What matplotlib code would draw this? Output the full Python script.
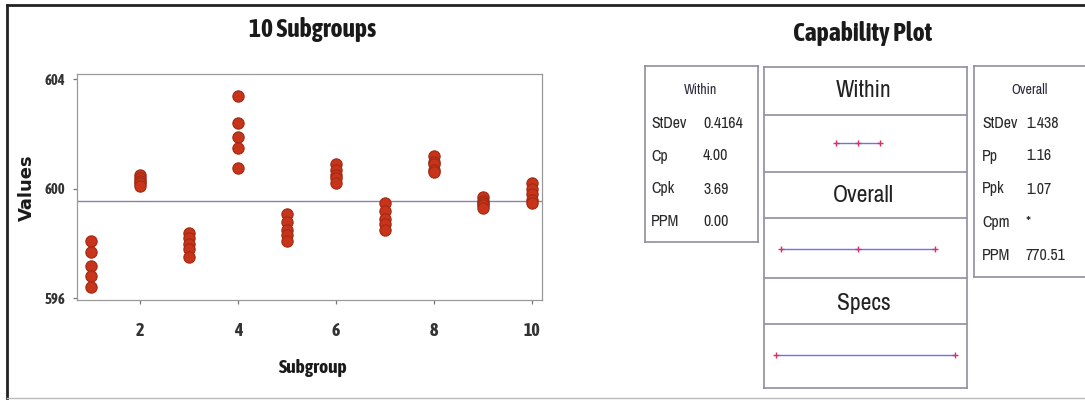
import numpy as np
import matplotlib
matplotlib.use("Agg")
import matplotlib.pyplot as plt
from matplotlib import font_manager
from matplotlib.lines import Line2D

# ---------------- data ----------------
subgroups = [1, 2, 3, 4, 5, 6, 7, 8, 9, 10]
values = [
    [598.1, 597.7, 597.2, 596.8, 596.4],
    [600.5, 600.4, 600.3, 600.2, 600.1],
    [598.4, 598.2, 598.0, 597.8, 597.5],
    [603.4, 602.4, 601.9, 601.5, 600.75],
    [599.1, 598.8, 598.5, 598.3, 598.1],
    [600.9, 600.7, 600.5, 600.4, 600.2],
    [599.5, 599.2, 598.9, 598.7, 598.5],
    [601.2, 601.0, 600.9, 600.7, 600.6],
    [599.7, 599.55, 599.5, 599.4, 599.3],
    [600.2, 600.0, 599.8, 599.6, 599.5],
]
y_ticks = [596, 600, 604]
x_ticks = [2, 4, 6, 8, 10]

LSL, USL = 595.0, 605.0
sd_within = 0.4164
sd_overall = 1.438
within_labels = ["StDev", "Cp", "Cpk", "PPM"]
within_values = ["0.4164", "4.00", "3.69", "0.00"]
overall_labels = ["StDev", "Pp", "Ppk", "Cpm", "PPM"]
overall_values = ["1.438", "1.16", "1.07", "*", "770.51"]
section_names = ["Within", "Overall", "Specs"]

# ---------------- fonts ----------------
entries = font_manager.fontManager.ttflist


def wnum(w):
    if isinstance(w, str):
        return font_manager.weight_dict.get(w, 400)
    return int(w)


cands = sorted({f.name for f in entries if ("Narrow" in f.name or "Condensed" in f.name)})
reg_cands = [n for n in cands if any(f.name == n and 350 <= wnum(f.weight) <= 500 for f in entries)]
bold_cands = [n for n in cands if any(f.name == n and wnum(f.weight) >= 600 for f in entries)]

if reg_cands:
    REG = [reg_cands[0], "DejaVu Sans"]
    k = 1.0
elif cands:
    REG = [cands[0], "DejaVu Sans"]
    k = 1.0
else:
    REG = ["Liberation Sans", "DejaVu Sans"]
    k = 0.8
if bold_cands:
    BOLD = [bold_cands[0], "DejaVu Sans"]
    kb = 1.0
else:
    BOLD = ["Liberation Sans", "DejaVu Sans"]
    kb = 0.86
plt.rcParams["font.family"] = REG

W, H = 1085, 400
fig = plt.figure(figsize=(W / 100, H / 100), dpi=100)


def px_axes(x0, y0, x1, y1, **kw):
    return fig.add_axes([x0 / W, 1 - y1 / H, (x1 - x0) / W, (y1 - y0) / H], **kw)


def fx(x):
    return x / W


def fy(y):
    return 1 - y / H


# outer frame
fig.add_artist(Line2D([fx(7), fx(1085)], [fy(5), fy(5)], color="#222222", lw=2))
fig.add_artist(Line2D([fx(7), fx(7)], [fy(5), fy(398)], color="#222222", lw=2))
fig.add_artist(Line2D([fx(7), fx(1085)], [fy(398), fy(398)], color="#bbbbbb", lw=1))

# ---------------- left chart ----------------
ax = px_axes(77, 74, 542, 300)
xs = np.concatenate([[s] * len(v) for s, v in zip(subgroups, values)])
ys = np.concatenate(values)
mean = ys.mean()
ax.axhline(mean, color="#8585a5", lw=1.0, zorder=1)
ax.scatter(xs, ys, s=66, color="#c8341a", edgecolor="#a02a14", linewidth=0.8, zorder=3)
ax.set_xlim(0.72, 10.2)
ax.set_ylim(595.94, 604.2)
ax.set_xticks(x_ticks)
ax.set_yticks(y_ticks)
for sp in ax.spines.values():
    sp.set_color("#9a9a9a")
    sp.set_linewidth(0.9)
ax.tick_params(axis="x", length=3, width=0.9, color="#777777", pad=12.5)
ax.tick_params(axis="y", length=3, width=0.9, color="#777777", pad=5.5)
for lab in ax.get_xticklabels():
    lab.set_family(BOLD)
    lab.set_fontweight("bold")
    lab.set_fontsize(13 * kb)
    lab.set_color("#333333")
for lab in ax.get_yticklabels():
    lab.set_family(BOLD)
    lab.set_fontweight("bold")
    lab.set_fontsize(10.5 * kb)
    lab.set_color("#333333")

fig.text(fx(313), fy(37), "10 Subgroups", ha="center", va="baseline", family=BOLD,
         fontsize=18.5 * kb, fontweight="bold", color="#1a1a1a")
fig.text(fx(313), fy(373), "Subgroup", ha="center", va="baseline", family=BOLD,
         fontsize=14 * kb, fontweight="bold", color="#1a1a1a")
fig.text(fx(27), fy(188), "Values", ha="center", va="center", rotation=90,
         fontsize=13, fontweight="bold", color="#1a1a1a", family=["DejaVu Sans"])

# ---------------- capability plot ----------------
fig.text(fx(863), fy(41), "Capability Plot", ha="center", va="baseline", family=BOLD,
         fontsize=18.5 * kb, fontweight="bold", color="#1a1a1a")

box_color = "#8e8e9e"
ts = 11.5 * k

# left stats box (Within)
axw = px_axes(645, 66, 758, 242)
axw.set_xlim(645, 758)
axw.set_ylim(242, 66)
axw.set_xticks([])
axw.set_yticks([])
for sp in axw.spines.values():
    sp.set_color(box_color)
    sp.set_linewidth(1.2)
axw.text(700, 90, "Within", ha="center", va="center", fontsize=10 * k, color="#2a2a3a")
for i, (lab, val) in enumerate(zip(within_labels, within_values)):
    yy = 123 + i * 33
    axw.text(651, yy, lab, ha="left", va="center", fontsize=ts, color="#2a2a2a")
    axw.text(703, yy, val, ha="left", va="center", fontsize=ts, color="#2a2a2a")

# right stats box (Overall)
axo = px_axes(974, 66, 1092, 277)
axo.set_xlim(974, 1092)
axo.set_ylim(277, 66)
axo.set_xticks([])
axo.set_yticks([])
for sp in axo.spines.values():
    sp.set_color(box_color)
    sp.set_linewidth(1.2)
axo.text(1030, 90, "Overall", ha="center", va="center", fontsize=10 * k, color="#2a2a3a")
for i, (lab, val) in enumerate(zip(overall_labels, overall_values)):
    yy = 123 + i * 33
    axo.text(982, yy, lab, ha="left", va="center", fontsize=ts, color="#2a2a2a")
    axo.text(1026, yy, val, ha="left", va="center", fontsize=ts, color="#2a2a2a")

# center interval panel
axc = px_axes(764, 67, 967, 388)
axc.set_xlim(LSL - 0.68, USL + 0.69)
axc.set_ylim(0, 1)
axc.set_xticks([])
axc.set_yticks([])
for sp in axc.spines.values():
    sp.set_color(box_color)
    sp.set_linewidth(1.2)
for yb in [0.850, 0.672, 0.530, 0.342, 0.199]:
    axc.axhline(yb, color=box_color, lw=1.2)
for name, yh in zip(section_names, [0.9275, 0.601, 0.264]):
    axc.text((LSL + USL) / 2 - 0.1, yh, name, ha="center", va="center",
             fontsize=17 * k, color="#222222")

intervals = [
    (mean - 3 * sd_within, mean, mean + 3 * sd_within),
    (mean - 3 * sd_overall, mean, mean + 3 * sd_overall),
    (LSL, None, USL),
]
for (lo, mid, hi), yi in zip(intervals, [0.762, 0.432, 0.104]):
    axc.plot([lo, hi], [yi, yi], color="#7070f0", lw=1.0, zorder=2)
    pts = [lo, hi] if mid is None else [lo, mid, hi]
    axc.plot(pts, [yi] * len(pts), linestyle="none", marker="+", markersize=5,
             markeredgewidth=1.0, color="#e0305a", zorder=3)

fig.savefig("out.png", dpi=100)
